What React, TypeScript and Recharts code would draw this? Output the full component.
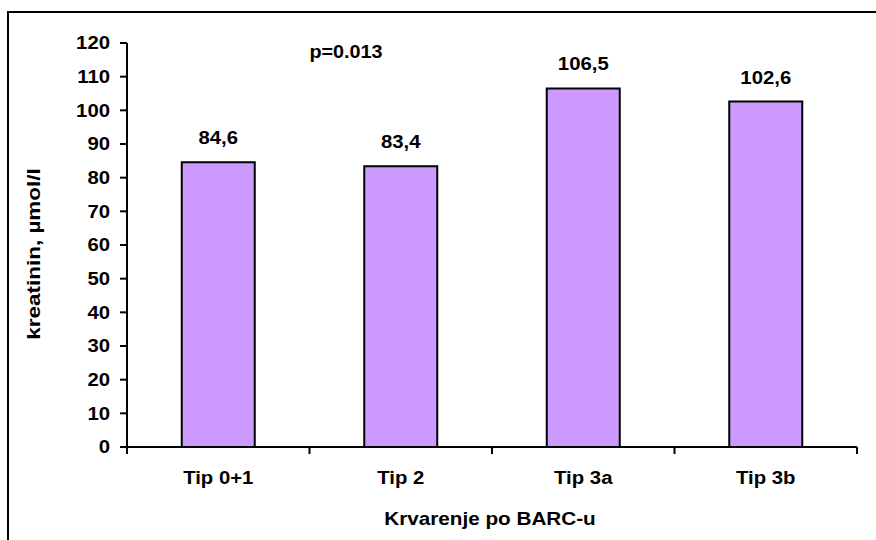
import React from 'react';
import { BarChart, Bar, XAxis, YAxis, LabelList } from 'recharts';

const categories = ['Tip 0+1', 'Tip 2', 'Tip 3a', 'Tip 3b'];
const values = [84.6, 83.4, 106.5, 102.6];
const yTicks = [0, 10, 20, 30, 40, 50, 60, 70, 80, 90, 100, 110, 120];
const pText = 'p=0.013';
const yLabel = 'kreatinin, µmol/l';
const xLabel = 'Krvarenje po BARC-u';

const data = categories.map((c, i) => ({ name: c, value: values[i] }));

const FONT = "Arial, 'Liberation Sans', sans-serif";
const FS = 18;
const SX = 1.13;
const X_TICK_SIZE = 6;
const X_TICK_MARGIN = 18;

const SText = (p: { x: number; y: number; anchor: string; children: any; fs?: number; sx?: number; rot?: number }) => {
  const fs = p.fs ?? FS;
  const sx = p.sx ?? SX;
  const rot = p.rot ? ` rotate(${p.rot})` : '';
  return (
    <text
      transform={`translate(${p.x} ${p.y})${rot} scale(${sx} 1)`}
      x={0}
      y={0}
      textAnchor={p.anchor as any}
      style={{ fontFamily: FONT, fontWeight: 700, fontSize: fs, fill: '#000' }}
    >
      {p.children}
    </text>
  );
};

const YTick = (props: any) => {
  const { x, y, payload } = props;
  return (
    <SText x={x} y={y + FS * 0.36} anchor="end">
      {payload.value}
    </SText>
  );
};

const XTick = (props: any) => {
  const { x, y, payload, index, width, visibleTicksCount } = props;
  const band = width / visibleTicksCount;
  const axisY = y - X_TICK_SIZE - X_TICK_MARGIN;
  const left = x - band / 2;
  const right = x + band / 2;
  return (
    <g>
      <line x1={left} x2={left} y1={axisY} y2={axisY + 7} stroke="#000" strokeWidth={2} />
      {index === visibleTicksCount - 1 && (
        <line x1={right} x2={right} y1={axisY} y2={axisY + 7} stroke="#000" strokeWidth={2} />
      )}
      <SText x={x} y={y + FS * 0.72} anchor="middle">
        {payload.value}
      </SText>
    </g>
  );
};

const YLabelContent = (props: any) => {
  const vb = props.viewBox || {};
  const x = vb.x + 32;
  const y = vb.y + vb.height / 2 + 9;
  return (
    <SText x={x} y={y} anchor="middle" rot={-90} sx={1.25}>
      {yLabel}
    </SText>
  );
};

const XLabelContent = (props: any) => {
  const vb = props.viewBox || {};
  return (
    <SText x={vb.x + vb.width / 2 - 2} y={vb.y + vb.height - 7} anchor="middle" sx={1.15}>
      {xLabel}
    </SText>
  );
};

const ValueLabel = (props: any) => {
  const { x, y, width, value } = props;
  return (
    <SText x={x + width / 2} y={y - 18} anchor="middle">
      {String(value).replace('.', ',')}
    </SText>
  );
};

export default function App() {
  return (
    <div style={{ position: 'absolute', left: 0, top: 0, width: 876, height: 540, overflow: 'hidden', background: '#fff' }}>
      <div style={{ position: 'absolute', left: 7, top: 11, width: 900, height: 2, background: '#000' }} />
      <div style={{ position: 'absolute', left: 7, top: 11, width: 2, height: 600, background: '#000' }} />
      <div style={{ position: 'absolute', left: 8, top: 8 }}>
        <BarChart
          width={860}
          height={524}
          data={data}
          margin={{ top: 35, right: 11, left: 0, bottom: 0 }}
          barCategoryGap="30%"
        >
          <XAxis
            dataKey="name"
            height={85}
            axisLine={{ stroke: '#000', strokeWidth: 2 }}
            tickLine={false}
            tickSize={X_TICK_SIZE}
            tickMargin={X_TICK_MARGIN}
            tick={<XTick />}
            interval={0}
            label={<XLabelContent />}
          />
          <YAxis
            domain={[0, 120]}
            ticks={yTicks}
            interval={0}
            width={119}
            axisLine={{ stroke: '#000', strokeWidth: 2 }}
            tickLine={{ stroke: '#000', strokeWidth: 2 }}
            tickSize={7}
            tickMargin={10}
            tick={<YTick />}
            label={<YLabelContent />}
          />
          <Bar dataKey="value" fill="#cc99ff" stroke="#000" strokeWidth={2} isAnimationActive={false}>
            <LabelList dataKey="value" content={<ValueLabel />} />
          </Bar>
        </BarChart>
      </div>
      <div
        style={{
          position: 'absolute',
          left: 346,
          top: 44,
          transform: 'translateX(-50%) scaleX(1.13)',
          fontFamily: FONT,
          fontWeight: 700,
          fontSize: 17.5,
          lineHeight: '17.5px',
          whiteSpace: 'nowrap',
          color: '#000',
        }}
      >
        {pText}
      </div>
    </div>
  );
}
